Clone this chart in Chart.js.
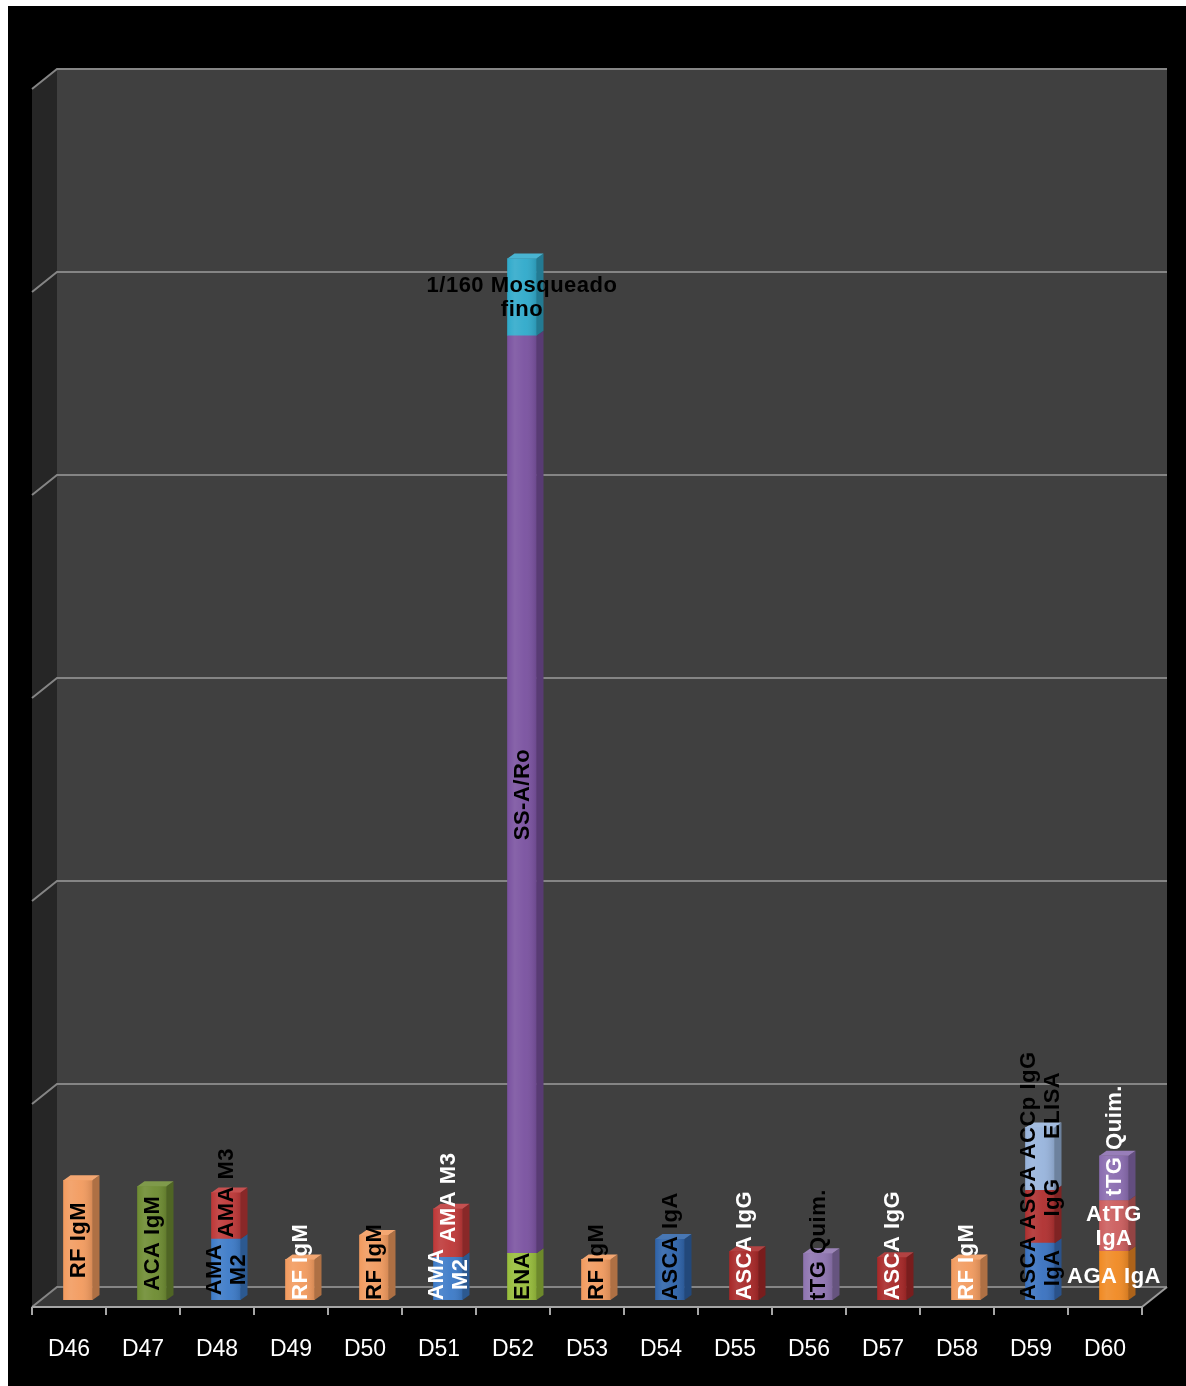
<!DOCTYPE html>
<html>
<head>
<meta charset="utf-8">
<script src="https://cdn.jsdelivr.net/npm/chart.js@4.4.1/dist/chart.umd.min.js"></script>
<style>
  html, body { margin: 0; padding: 0; background: #ffffff; }
  canvas { display: block; }
</style>
</head>
<body>
<canvas id="c" width="1186" height="1386"></canvas>
<script>
// ---------- data ----------
const categories = ['D46','D47','D48','D49','D50','D51','D52','D53','D54','D55','D56','D57','D58','D59','D60'];

const seg1Values = [0.59, 0.56, 0.30, 0.20, 0.32, 0.21, 0.23, 0.20, 0.30, 0.24, 0.23, 0.21, 0.20, 0.28, 0.24];
const seg1Labels = ['RF IgM','ACA IgM','AMA\nM2','RF IgM','RF IgM','AMA\nM2','ENA','RF IgM','ASCA IgA','ASCA IgG','tTG Quim.','ASCA IgG','RF IgM','ASCA\nIgA','AGA IgA'];

const seg2Values = [null, null, 0.23, null, null, 0.24, 4.52, null, null, null, null, null, null, 0.26, 0.25];
const seg2Labels = ['','','AMA M3','','','AMA M3','SS-A/Ro','','','','','','','ASCA\nIgG','AtTG\nIgA'];

const seg3Values = [null, null, null, null, null, null, 0.38, null, null, null, null, null, null, 0.31, 0.22];
const seg3Labels = ['','','','','','','1/160 Mosqueado\nfino','','','','','','','ACCp IgG\nELISA','tTG Quim.'];

const yTicks = [0, 1, 2, 3, 4, 5, 6];

// ---------- styles ----------
const seg1Colors = ['#F29B5F','#6E8C32','#3D7BC8','#F29B5F','#F29B5F','#3D7BC8','#98BE3C','#F29B5F','#2F64AA','#A82828','#8E74B0','#A82828','#F29B5F','#3A72C0','#F08A24'];
const seg2Colors = [null,null,'#BE3838',null,null,'#BE3838','#7A52A0',null,null,null,null,null,null,'#B03030','#CC5E5E'];
const seg3Colors = [null,null,null,null,null,null,'#30AACB',null,null,null,null,null,null,'#98B4DC','#8A6CB0'];

const seg1TextColors = ['#000','#000','#000','#fff','#000','#fff','#000','#000','#000','#fff','#000','#fff','#fff','#000','#fff'];
const seg2TextColors = ['#000','#000','#000','#000','#000','#fff','#000','#000','#000','#000','#000','#000','#000','#000','#fff'];
const seg3TextColors = ['#000','#000','#000','#000','#000','#000','#000','#000','#000','#000','#000','#000','#000','#000','#fff'];

const horizontalLabels = ['1/160 Mosqueado\nfino', 'AGA IgA', 'AtTG\nIgA'];

// plane offsets relative to the bar plane (pseudo 3D)
const FRONT = {dx: -9, dy: 7};
const BACK = {dx: 16, dy: -13};
const BAR_DEPTH = {dx: 7, dy: -5};

function shade(hex, f) {
  const n = parseInt(hex.slice(1), 16);
  let r = (n >> 16) & 255, g = (n >> 8) & 255, b = n & 255;
  if (f < 1) { r *= f; g *= f; b *= f; }
  else { const t = f - 1; r += (255 - r) * t; g += (255 - g) * t; b += (255 - b) * t; }
  return `rgb(${Math.round(r)},${Math.round(g)},${Math.round(b)})`;
}

const backgroundPlugin = {
  id: 'walls',
  beforeDraw(chart) {
    const ctx = chart.ctx;
    const W = chart.width, H = chart.height;
    ctx.save();
    ctx.fillStyle = '#ffffff';
    ctx.fillRect(0, 0, W, H);
    ctx.fillStyle = '#000000';
    ctx.fillRect(8, 6, W - 8, H - 6);

    const xs = chart.scales.x, ys = chart.scales.y;
    const L = xs.left, R = xs.right;
    const T = ys.getPixelForValue(yTicks[yTicks.length - 1]);
    const B = ys.getPixelForValue(0);

    ctx.fillStyle = '#404040';
    ctx.fillRect(L + BACK.dx, T + BACK.dy, R - L, B - T);
    ctx.fillStyle = '#262626';
    ctx.beginPath();
    ctx.moveTo(L + FRONT.dx, T + FRONT.dy);
    ctx.lineTo(L + BACK.dx, T + BACK.dy);
    ctx.lineTo(L + BACK.dx, B + BACK.dy);
    ctx.lineTo(L + FRONT.dx, B + FRONT.dy);
    ctx.closePath();
    ctx.fill();
    ctx.fillStyle = '#383838';
    ctx.beginPath();
    ctx.moveTo(L + FRONT.dx, B + FRONT.dy);
    ctx.lineTo(L + BACK.dx, B + BACK.dy);
    ctx.lineTo(R + BACK.dx, B + BACK.dy);
    ctx.lineTo(R + FRONT.dx, B + FRONT.dy);
    ctx.closePath();
    ctx.fill();

    ctx.strokeStyle = '#858585';
    ctx.lineWidth = 2;
    yTicks.forEach(v => {
      const y = ys.getPixelForValue(v);
      ctx.beginPath();
      ctx.moveTo(L + FRONT.dx, y + FRONT.dy);
      ctx.lineTo(L + BACK.dx, y + BACK.dy);
      ctx.lineTo(R + BACK.dx, y + BACK.dy);
      ctx.stroke();
    });
    ctx.strokeStyle = '#9a9a9a';
    ctx.beginPath();
    ctx.moveTo(R + BACK.dx, B + BACK.dy);
    ctx.lineTo(R + FRONT.dx, B + FRONT.dy);
    ctx.stroke();
    ctx.strokeStyle = '#a6a6a6';
    ctx.beginPath();
    ctx.moveTo(L + FRONT.dx, B + FRONT.dy);
    ctx.lineTo(R + FRONT.dx, B + FRONT.dy);
    ctx.stroke();
    const n = categories.length;
    for (let i = 0; i <= n; i++) {
      const x = Math.round(L + FRONT.dx + i * (R - L) / n);
      ctx.beginPath();
      ctx.moveTo(x, B + FRONT.dy);
      ctx.lineTo(x, B + FRONT.dy + 8);
      ctx.stroke();
    }
    ctx.restore();
  }
};

const labelSets = [
  {labels: seg1Labels, colors: seg1TextColors},
  {labels: seg2Labels, colors: seg2TextColors},
  {labels: seg3Labels, colors: seg3TextColors}
];
const faceColors = [seg1Colors, seg2Colors, seg3Colors];

const barsPlugin = {
  id: 'bars3d',
  afterDatasetsDraw(chart) {
    const ctx = chart.ctx;
    const ys = chart.scales.y;
    const B = ys.getPixelForValue(0);
    const nD = chart.data.datasets.length;
    ctx.save();
    categories.forEach((c, i) => {
      let topIdx = -1;
      for (let d = 0; d < nD; d++) {
        if (chart.data.datasets[d].data[i] != null) topIdx = d;
      }
      for (let d = 0; d < nD; d++) {
        const v = chart.data.datasets[d].data[i];
        if (v == null) continue;
        const el = chart.getDatasetMeta(d).data[i];
        const p = el.getProps(['x', 'y', 'base', 'width'], true);
        const col = faceColors[d][i];
        const xl = p.x - p.width / 2, xr = p.x + p.width / 2;
        const g = ctx.createLinearGradient(xl, 0, xr, 0);
        g.addColorStop(0, 'rgba(255,255,255,0.00)');
        g.addColorStop(0.25, 'rgba(255,255,255,0.10)');
        g.addColorStop(0.6, 'rgba(255,255,255,0.04)');
        g.addColorStop(1, 'rgba(0,0,0,0.12)');
        ctx.fillStyle = g;
        ctx.fillRect(xl, p.y, p.width, p.base - p.y);
        ctx.fillStyle = shade(col, 0.72);
        ctx.beginPath();
        ctx.moveTo(xr, p.y);
        ctx.lineTo(xr + BAR_DEPTH.dx, p.y + BAR_DEPTH.dy);
        ctx.lineTo(xr + BAR_DEPTH.dx, p.base + BAR_DEPTH.dy);
        ctx.lineTo(xr, p.base);
        ctx.closePath();
        ctx.fill();
        if (d === topIdx) {
          ctx.fillStyle = shade(col, 1.12);
          ctx.beginPath();
          ctx.moveTo(xl, p.y);
          ctx.lineTo(xl + BAR_DEPTH.dx, p.y + BAR_DEPTH.dy);
          ctx.lineTo(xr + BAR_DEPTH.dx, p.y + BAR_DEPTH.dy);
          ctx.lineTo(xr, p.y);
          ctx.closePath();
          ctx.fill();
        }
      }
    });
    const lineH = 24;
    ctx.font = 'bold 22px "Liberation Sans", Arial, sans-serif';
    if ('letterSpacing' in ctx) ctx.letterSpacing = '0.5px';
    ctx.textAlign = 'center';
    ctx.textBaseline = 'middle';
    categories.forEach((c, i) => {
      let limit = B;
      for (let d = 0; d < nD; d++) {
        const v = chart.data.datasets[d].data[i];
        if (v == null) continue;
        const text = labelSets[d].labels[i];
        if (!text) continue;
        const el = chart.getDatasetMeta(d).data[i];
        const p = el.getProps(['x', 'y', 'base', 'width'], true);
        const lines = text.split('\n');
        const horiz = horizontalLabels.includes(text);
        const len = Math.max(...lines.map(s => ctx.measureText(s).width));
        const ext = horiz ? lines.length * lineH : len;
        let cy = (p.y + p.base) / 2;
        if (cy + ext / 2 > limit) cy = limit - ext / 2;
        limit = cy - ext / 2 - 6;
        ctx.fillStyle = labelSets[d].colors[i];
        ctx.save();
        ctx.translate(p.x, cy);
        if (!horiz) ctx.rotate(-Math.PI / 2);
        lines.forEach((s, j) => {
          const off = (j - (lines.length - 1) / 2) * lineH;
          ctx.fillText(s, 0, off + 1);
        });
        ctx.restore();
      }
    });
    ctx.restore();
  }
};

const chart = new Chart(document.getElementById('c'), {
  type: 'bar',
  data: {
    labels: categories,
    datasets: [
      {label: 'seg1', data: seg1Values, backgroundColor: seg1Colors},
      {label: 'seg2', data: seg2Values, backgroundColor: seg2Colors},
      {label: 'seg3', data: seg3Values, backgroundColor: seg3Colors}
    ]
  },
  options: {
    responsive: false,
    animation: false,
    devicePixelRatio: 1,
    layout: {padding: {left: 41, right: 35, top: 82, bottom: 22}},
    datasets: {bar: {barThickness: 29, borderWidth: 0}},
    plugins: {legend: {display: false}, tooltip: {enabled: false}},
    scales: {
      x: {
        stacked: true,
        grid: {display: false, drawTicks: false},
        border: {display: false},
        afterFit(scale) { scale.height = 64; },
        ticks: {
          color: '#ffffff',
          padding: 36,
          labelOffset: -9,
          maxRotation: 0,
          autoSkip: false,
          font: {family: '"Liberation Sans", Arial, sans-serif', size: 23}
        }
      },
      y: {
        stacked: true,
        display: false,
        min: 0,
        max: 6,
        ticks: {stepSize: 1}
      }
    }
  },
  plugins: [backgroundPlugin, barsPlugin]
});
</script>
</body>
</html>
